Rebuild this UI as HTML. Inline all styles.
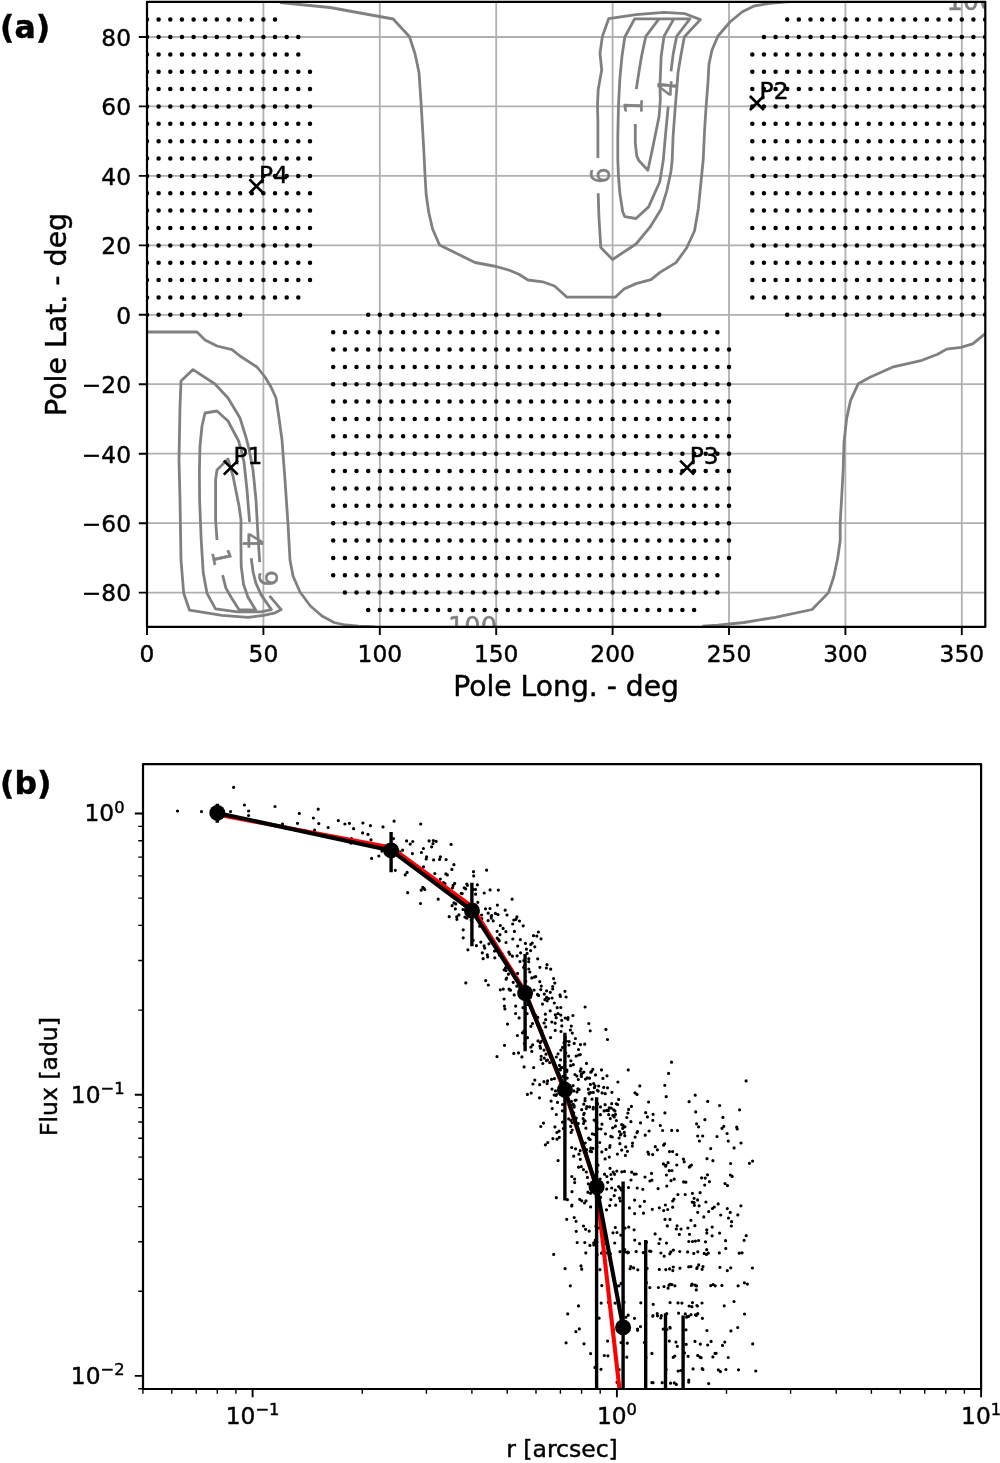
<!DOCTYPE html>
<html><head><meta charset="utf-8"><title>Figure</title><style>html,body{margin:0;padding:0;background:#fff}svg{display:block}</style></head><body>
<svg width="1000" height="1463" viewBox="0 0 1000 1463" font-family='"DejaVu Sans","Liberation Sans",sans-serif' stroke-linejoin="round">
<style>text{stroke:#000;stroke-width:.45px}text.g{stroke:#808080;stroke-width:.5px}</style>
<defs>
<clipPath id="ca"><rect x="147.0" y="1.9" width="838.3" height="625.0"/></clipPath>
<clipPath id="cb"><rect x="143" y="764.1" width="838.1" height="624.9"/></clipPath>
</defs>
<rect width="1000" height="1463" fill="#fff"/>
<path d="M147.0 1.9V626.9M263.4 1.9V626.9M379.8 1.9V626.9M496.2 1.9V626.9M612.6 1.9V626.9M729.0 1.9V626.9M845.4 1.9V626.9M961.8 1.9V626.9M147.0 592.6H985.3M147.0 523.2H985.3M147.0 453.7H985.3M147.0 384.2H985.3M147.0 314.8H985.3M147.0 245.4H985.3M147.0 175.9H985.3M147.0 106.4H985.3M147.0 37.0H985.3" stroke="#b0b0b0" stroke-width="1.8" fill="none"/>
<g clip-path="url(#ca)">
<path d="M280.0 2.5L330.0 7.5L393.2 19.0L409.5 36.8L415.0 53.8L419.0 72.5L421.2 105.0L423.8 150.0L425.0 175.0L426.2 195.0L428.8 212.5L432.5 228.8L439.5 245.0L475.0 262.5L496.2 266.5L510.0 270.5L518.8 274.2L528.0 280.0L542.5 281.8L554.5 286.0L567.0 297.2L615.3 297.2L624.0 289.0L636.0 283.6L651.0 279.6L660.0 272.4L676.0 262.6L686.6 248.0L694.5 231.0L698.3 209.0L701.1 181.0L703.2 160.0L704.6 130.0L706.0 108.0L708.0 82.0L709.0 64.0L712.0 50.0L718.0 36.0L730.0 22.0L742.0 12.0L754.0 6.0L770.0 3.4L790.0 1.5M597.9 158.0L597.9 122.0L597.5 105.0L598.2 89.6L601.7 70.0L600.0 53.2L602.4 36.4L608.7 18.7L636.0 14.7L664.0 12.3L685.0 13.7L700.4 19.6L690.6 30.0L684.3 37.0L680.8 56.0L678.0 72.8L676.6 91.0L675.2 108.0L673.1 136.0L672.2 160.0L671.0 171.2L666.8 190.8L661.2 209.0L650.0 227.2L636.0 244.0L612.5 259.5L600.8 247.5L598.9 216.0L598.2 193.3M671.0 71.4L673.1 54.6L676.6 36.4L689.9 18.9L634.6 18.9L624.8 37.0L622.0 56.0L619.9 78.4L618.5 105.0L617.8 136.0L617.8 160.0L618.5 176.8L619.9 193.6L622.7 211.8L624.8 216.7L636.0 218.5L648.6 206.9L659.8 181.7L663.3 160.0L665.4 136.0L668.2 106.6M636.3 89.0L638.8 72.8L641.6 56.0L645.8 36.4L659.0 18.9L673.8 18.9L664.0 36.4L661.2 56.0L660.0 84.0L660.3 100.0L659.1 116.4L652.8 147.2L647.9 170.3L638.8 160.5L636.7 155.6L635.3 143.0L635.3 124.1M659.0 18.9L673.8 18.9M147.0 332.0L197.0 332.0L205.0 340.0L217.0 346.0L232.0 349.6L240.0 356.0L257.0 367.0L265.0 377.0L271.0 387.0L276.0 398.0L279.0 418.0L282.0 440.0L285.0 480.0L288.0 524.0L290.0 560.0L293.0 576.0L300.0 592.0L310.4 606.0L322.0 616.0L334.0 622.5L345.5 625.0L358.5 626.2L375.0 626.9M259.7 562.1L258.0 536.0L256.0 500.0L253.0 470.0L249.2 450.0L246.5 439.0L240.0 418.0L228.0 398.0L215.0 384.0L193.0 369.6L181.0 381.0L180.0 406.0L179.0 460.0L180.0 500.0L181.0 560.0L183.7 593.3L189.5 610.2L222.0 615.4L248.0 617.4L263.6 615.4L275.3 612.8L281.2 609.6L269.5 595.9M249.6 522.0L247.0 490.0L244.0 462.0L241.7 452.0L238.6 441.0L228.0 421.0L217.0 411.0L205.0 413.0L202.0 426.0L200.0 446.0L199.4 470.0L199.6 500.0L201.2 540.0L203.2 572.5L207.0 593.3L215.5 608.9L237.6 611.8L261.0 611.8L271.4 609.6L261.0 594.6L255.8 582.9L253.2 572.5L251.2 558.2M217.0 540.0L215.6 520.0L215.6 480.0L217.0 470.0L228.0 459.0L233.0 476.0L239.0 506.0L241.0 520.0L240.9 540.0L241.2 566.0L243.5 584.2L248.0 597.2L255.8 610.2L238.9 609.6L231.1 597.2L225.9 588.1L222.6 575.1M702.4 626.2L718.0 625.1L744.0 622.5L775.2 617.3L812.1 609.5L828.5 592.6L833.7 577.0L837.6 558.8L840.2 540.6L840.2 522.4L842.3 486.0L843.2 470.0L844.0 442.2L846.6 418.8L850.5 400.6L858.3 383.7L870.0 377.2L893.4 366.8L922.0 360.3L937.6 354.3L946.7 349.1L961.0 347.3L972.7 343.9L985.3 333.6" stroke="#808080" stroke-width="2.8" fill="none" stroke-linejoin="round"/>
<text x="0" y="0" transform="translate(601.0 175.6) rotate(-90.0)" class="g" font-size="25.7" fill="#808080" text-anchor="middle" dy="0.365em">6</text>
<text x="0" y="0" transform="translate(633.2 106.0) rotate(-88.0)" class="g" font-size="25.7" fill="#808080" text-anchor="middle" dy="0.365em">1</text>
<text x="0" y="0" transform="translate(666.8 88.0) rotate(-85.4)" class="g" font-size="25.7" fill="#808080" text-anchor="middle" dy="0.365em">4</text>
<text x="0" y="0" transform="translate(222.0 557.3) rotate(78.0)" class="g" font-size="25.7" fill="#808080" text-anchor="middle" dy="0.365em">1</text>
<text x="0" y="0" transform="translate(252.2 540.6) rotate(90.0)" class="g" font-size="25.7" fill="#808080" text-anchor="middle" dy="0.365em">4</text>
<text x="0" y="0" transform="translate(268.2 578.3) rotate(87.0)" class="g" font-size="25.7" fill="#808080" text-anchor="middle" dy="0.365em">9</text>
<text x="0" y="0" transform="translate(472.5 626.5) rotate(0.0)" class="g" font-size="25.7" fill="#808080" text-anchor="middle" dy="0.365em">100</text>
<text x="0" y="0" transform="translate(971.0 0.5) rotate(0.0)" class="g" font-size="25.7" fill="#808080" text-anchor="middle" dy="0.365em">100</text>
<path d="M147.0 19.6h.01M158.6 19.6h.01M170.3 19.6h.01M181.9 19.6h.01M193.6 19.6h.01M205.2 19.6h.01M216.8 19.6h.01M228.5 19.6h.01M240.1 19.6h.01M251.8 19.6h.01M263.4 19.6h.01M275.0 19.6h.01M147.0 37.0h.01M158.6 37.0h.01M170.3 37.0h.01M181.9 37.0h.01M193.6 37.0h.01M205.2 37.0h.01M216.8 37.0h.01M228.5 37.0h.01M240.1 37.0h.01M251.8 37.0h.01M263.4 37.0h.01M275.0 37.0h.01M286.7 37.0h.01M298.3 37.0h.01M147.0 54.4h.01M158.6 54.4h.01M170.3 54.4h.01M181.9 54.4h.01M193.6 54.4h.01M205.2 54.4h.01M216.8 54.4h.01M228.5 54.4h.01M240.1 54.4h.01M251.8 54.4h.01M263.4 54.4h.01M275.0 54.4h.01M286.7 54.4h.01M298.3 54.4h.01M147.0 71.7h.01M158.6 71.7h.01M170.3 71.7h.01M181.9 71.7h.01M193.6 71.7h.01M205.2 71.7h.01M216.8 71.7h.01M228.5 71.7h.01M240.1 71.7h.01M251.8 71.7h.01M263.4 71.7h.01M275.0 71.7h.01M286.7 71.7h.01M298.3 71.7h.01M310.0 71.7h.01M147.0 89.1h.01M158.6 89.1h.01M170.3 89.1h.01M181.9 89.1h.01M193.6 89.1h.01M205.2 89.1h.01M216.8 89.1h.01M228.5 89.1h.01M240.1 89.1h.01M251.8 89.1h.01M263.4 89.1h.01M275.0 89.1h.01M286.7 89.1h.01M298.3 89.1h.01M310.0 89.1h.01M147.0 106.4h.01M158.6 106.4h.01M170.3 106.4h.01M181.9 106.4h.01M193.6 106.4h.01M205.2 106.4h.01M216.8 106.4h.01M228.5 106.4h.01M240.1 106.4h.01M251.8 106.4h.01M263.4 106.4h.01M275.0 106.4h.01M286.7 106.4h.01M298.3 106.4h.01M310.0 106.4h.01M147.0 123.8h.01M158.6 123.8h.01M170.3 123.8h.01M181.9 123.8h.01M193.6 123.8h.01M205.2 123.8h.01M216.8 123.8h.01M228.5 123.8h.01M240.1 123.8h.01M251.8 123.8h.01M263.4 123.8h.01M275.0 123.8h.01M286.7 123.8h.01M298.3 123.8h.01M310.0 123.8h.01M147.0 141.2h.01M158.6 141.2h.01M170.3 141.2h.01M181.9 141.2h.01M193.6 141.2h.01M205.2 141.2h.01M216.8 141.2h.01M228.5 141.2h.01M240.1 141.2h.01M251.8 141.2h.01M263.4 141.2h.01M275.0 141.2h.01M286.7 141.2h.01M298.3 141.2h.01M310.0 141.2h.01M147.0 158.5h.01M158.6 158.5h.01M170.3 158.5h.01M181.9 158.5h.01M193.6 158.5h.01M205.2 158.5h.01M216.8 158.5h.01M228.5 158.5h.01M240.1 158.5h.01M251.8 158.5h.01M263.4 158.5h.01M275.0 158.5h.01M286.7 158.5h.01M298.3 158.5h.01M310.0 158.5h.01M147.0 175.9h.01M158.6 175.9h.01M170.3 175.9h.01M181.9 175.9h.01M193.6 175.9h.01M205.2 175.9h.01M216.8 175.9h.01M228.5 175.9h.01M240.1 175.9h.01M251.8 175.9h.01M263.4 175.9h.01M275.0 175.9h.01M286.7 175.9h.01M298.3 175.9h.01M310.0 175.9h.01M147.0 193.3h.01M158.6 193.3h.01M170.3 193.3h.01M181.9 193.3h.01M193.6 193.3h.01M205.2 193.3h.01M216.8 193.3h.01M228.5 193.3h.01M240.1 193.3h.01M251.8 193.3h.01M263.4 193.3h.01M275.0 193.3h.01M286.7 193.3h.01M298.3 193.3h.01M310.0 193.3h.01M147.0 210.6h.01M158.6 210.6h.01M170.3 210.6h.01M181.9 210.6h.01M193.6 210.6h.01M205.2 210.6h.01M216.8 210.6h.01M228.5 210.6h.01M240.1 210.6h.01M251.8 210.6h.01M263.4 210.6h.01M275.0 210.6h.01M286.7 210.6h.01M298.3 210.6h.01M310.0 210.6h.01M147.0 228.0h.01M158.6 228.0h.01M170.3 228.0h.01M181.9 228.0h.01M193.6 228.0h.01M205.2 228.0h.01M216.8 228.0h.01M228.5 228.0h.01M240.1 228.0h.01M251.8 228.0h.01M263.4 228.0h.01M275.0 228.0h.01M286.7 228.0h.01M298.3 228.0h.01M310.0 228.0h.01M147.0 245.4h.01M158.6 245.4h.01M170.3 245.4h.01M181.9 245.4h.01M193.6 245.4h.01M205.2 245.4h.01M216.8 245.4h.01M228.5 245.4h.01M240.1 245.4h.01M251.8 245.4h.01M263.4 245.4h.01M275.0 245.4h.01M286.7 245.4h.01M298.3 245.4h.01M310.0 245.4h.01M147.0 262.7h.01M158.6 262.7h.01M170.3 262.7h.01M181.9 262.7h.01M193.6 262.7h.01M205.2 262.7h.01M216.8 262.7h.01M228.5 262.7h.01M240.1 262.7h.01M251.8 262.7h.01M263.4 262.7h.01M275.0 262.7h.01M286.7 262.7h.01M298.3 262.7h.01M310.0 262.7h.01M147.0 280.1h.01M158.6 280.1h.01M170.3 280.1h.01M181.9 280.1h.01M193.6 280.1h.01M205.2 280.1h.01M216.8 280.1h.01M228.5 280.1h.01M240.1 280.1h.01M251.8 280.1h.01M263.4 280.1h.01M275.0 280.1h.01M286.7 280.1h.01M298.3 280.1h.01M310.0 280.1h.01M147.0 297.4h.01M158.6 297.4h.01M170.3 297.4h.01M181.9 297.4h.01M193.6 297.4h.01M205.2 297.4h.01M216.8 297.4h.01M228.5 297.4h.01M240.1 297.4h.01M251.8 297.4h.01M263.4 297.4h.01M275.0 297.4h.01M286.7 297.4h.01M298.3 297.4h.01M147.0 314.8h.01M158.6 314.8h.01M170.3 314.8h.01M181.9 314.8h.01M193.6 314.8h.01M205.2 314.8h.01M216.8 314.8h.01M228.5 314.8h.01M240.1 314.8h.01M368.2 314.8h.01M379.8 314.8h.01M391.4 314.8h.01M403.1 314.8h.01M414.7 314.8h.01M426.4 314.8h.01M438.0 314.8h.01M449.6 314.8h.01M461.3 314.8h.01M472.9 314.8h.01M484.6 314.8h.01M496.2 314.8h.01M507.8 314.8h.01M519.5 314.8h.01M531.1 314.8h.01M542.8 314.8h.01M554.4 314.8h.01M566.0 314.8h.01M577.7 314.8h.01M589.3 314.8h.01M601.0 314.8h.01M612.6 314.8h.01M624.2 314.8h.01M635.9 314.8h.01M647.5 314.8h.01M659.2 314.8h.01M333.2 332.2h.01M344.9 332.2h.01M356.5 332.2h.01M368.2 332.2h.01M379.8 332.2h.01M391.4 332.2h.01M403.1 332.2h.01M414.7 332.2h.01M426.4 332.2h.01M438.0 332.2h.01M449.6 332.2h.01M461.3 332.2h.01M472.9 332.2h.01M484.6 332.2h.01M496.2 332.2h.01M507.8 332.2h.01M519.5 332.2h.01M531.1 332.2h.01M542.8 332.2h.01M554.4 332.2h.01M566.0 332.2h.01M577.7 332.2h.01M589.3 332.2h.01M601.0 332.2h.01M612.6 332.2h.01M624.2 332.2h.01M635.9 332.2h.01M647.5 332.2h.01M659.2 332.2h.01M670.8 332.2h.01M682.4 332.2h.01M694.1 332.2h.01M705.7 332.2h.01M717.4 332.2h.01M333.2 349.5h.01M344.9 349.5h.01M356.5 349.5h.01M368.2 349.5h.01M379.8 349.5h.01M391.4 349.5h.01M403.1 349.5h.01M414.7 349.5h.01M426.4 349.5h.01M438.0 349.5h.01M449.6 349.5h.01M461.3 349.5h.01M472.9 349.5h.01M484.6 349.5h.01M496.2 349.5h.01M507.8 349.5h.01M519.5 349.5h.01M531.1 349.5h.01M542.8 349.5h.01M554.4 349.5h.01M566.0 349.5h.01M577.7 349.5h.01M589.3 349.5h.01M601.0 349.5h.01M612.6 349.5h.01M624.2 349.5h.01M635.9 349.5h.01M647.5 349.5h.01M659.2 349.5h.01M670.8 349.5h.01M682.4 349.5h.01M694.1 349.5h.01M705.7 349.5h.01M717.4 349.5h.01M729.0 349.5h.01M333.2 366.9h.01M344.9 366.9h.01M356.5 366.9h.01M368.2 366.9h.01M379.8 366.9h.01M391.4 366.9h.01M403.1 366.9h.01M414.7 366.9h.01M426.4 366.9h.01M438.0 366.9h.01M449.6 366.9h.01M461.3 366.9h.01M472.9 366.9h.01M484.6 366.9h.01M496.2 366.9h.01M507.8 366.9h.01M519.5 366.9h.01M531.1 366.9h.01M542.8 366.9h.01M554.4 366.9h.01M566.0 366.9h.01M577.7 366.9h.01M589.3 366.9h.01M601.0 366.9h.01M612.6 366.9h.01M624.2 366.9h.01M635.9 366.9h.01M647.5 366.9h.01M659.2 366.9h.01M670.8 366.9h.01M682.4 366.9h.01M694.1 366.9h.01M705.7 366.9h.01M717.4 366.9h.01M729.0 366.9h.01M333.2 384.2h.01M344.9 384.2h.01M356.5 384.2h.01M368.2 384.2h.01M379.8 384.2h.01M391.4 384.2h.01M403.1 384.2h.01M414.7 384.2h.01M426.4 384.2h.01M438.0 384.2h.01M449.6 384.2h.01M461.3 384.2h.01M472.9 384.2h.01M484.6 384.2h.01M496.2 384.2h.01M507.8 384.2h.01M519.5 384.2h.01M531.1 384.2h.01M542.8 384.2h.01M554.4 384.2h.01M566.0 384.2h.01M577.7 384.2h.01M589.3 384.2h.01M601.0 384.2h.01M612.6 384.2h.01M624.2 384.2h.01M635.9 384.2h.01M647.5 384.2h.01M659.2 384.2h.01M670.8 384.2h.01M682.4 384.2h.01M694.1 384.2h.01M705.7 384.2h.01M717.4 384.2h.01M729.0 384.2h.01M333.2 401.6h.01M344.9 401.6h.01M356.5 401.6h.01M368.2 401.6h.01M379.8 401.6h.01M391.4 401.6h.01M403.1 401.6h.01M414.7 401.6h.01M426.4 401.6h.01M438.0 401.6h.01M449.6 401.6h.01M461.3 401.6h.01M472.9 401.6h.01M484.6 401.6h.01M496.2 401.6h.01M507.8 401.6h.01M519.5 401.6h.01M531.1 401.6h.01M542.8 401.6h.01M554.4 401.6h.01M566.0 401.6h.01M577.7 401.6h.01M589.3 401.6h.01M601.0 401.6h.01M612.6 401.6h.01M624.2 401.6h.01M635.9 401.6h.01M647.5 401.6h.01M659.2 401.6h.01M670.8 401.6h.01M682.4 401.6h.01M694.1 401.6h.01M705.7 401.6h.01M717.4 401.6h.01M729.0 401.6h.01M333.2 419.0h.01M344.9 419.0h.01M356.5 419.0h.01M368.2 419.0h.01M379.8 419.0h.01M391.4 419.0h.01M403.1 419.0h.01M414.7 419.0h.01M426.4 419.0h.01M438.0 419.0h.01M449.6 419.0h.01M461.3 419.0h.01M472.9 419.0h.01M484.6 419.0h.01M496.2 419.0h.01M507.8 419.0h.01M519.5 419.0h.01M531.1 419.0h.01M542.8 419.0h.01M554.4 419.0h.01M566.0 419.0h.01M577.7 419.0h.01M589.3 419.0h.01M601.0 419.0h.01M612.6 419.0h.01M624.2 419.0h.01M635.9 419.0h.01M647.5 419.0h.01M659.2 419.0h.01M670.8 419.0h.01M682.4 419.0h.01M694.1 419.0h.01M705.7 419.0h.01M717.4 419.0h.01M729.0 419.0h.01M333.2 436.3h.01M344.9 436.3h.01M356.5 436.3h.01M368.2 436.3h.01M379.8 436.3h.01M391.4 436.3h.01M403.1 436.3h.01M414.7 436.3h.01M426.4 436.3h.01M438.0 436.3h.01M449.6 436.3h.01M461.3 436.3h.01M472.9 436.3h.01M484.6 436.3h.01M496.2 436.3h.01M507.8 436.3h.01M519.5 436.3h.01M531.1 436.3h.01M542.8 436.3h.01M554.4 436.3h.01M566.0 436.3h.01M577.7 436.3h.01M589.3 436.3h.01M601.0 436.3h.01M612.6 436.3h.01M624.2 436.3h.01M635.9 436.3h.01M647.5 436.3h.01M659.2 436.3h.01M670.8 436.3h.01M682.4 436.3h.01M694.1 436.3h.01M705.7 436.3h.01M717.4 436.3h.01M729.0 436.3h.01M333.2 453.7h.01M344.9 453.7h.01M356.5 453.7h.01M368.2 453.7h.01M379.8 453.7h.01M391.4 453.7h.01M403.1 453.7h.01M414.7 453.7h.01M426.4 453.7h.01M438.0 453.7h.01M449.6 453.7h.01M461.3 453.7h.01M472.9 453.7h.01M484.6 453.7h.01M496.2 453.7h.01M507.8 453.7h.01M519.5 453.7h.01M531.1 453.7h.01M542.8 453.7h.01M554.4 453.7h.01M566.0 453.7h.01M577.7 453.7h.01M589.3 453.7h.01M601.0 453.7h.01M612.6 453.7h.01M624.2 453.7h.01M635.9 453.7h.01M647.5 453.7h.01M659.2 453.7h.01M670.8 453.7h.01M682.4 453.7h.01M694.1 453.7h.01M705.7 453.7h.01M717.4 453.7h.01M729.0 453.7h.01M333.2 471.1h.01M344.9 471.1h.01M356.5 471.1h.01M368.2 471.1h.01M379.8 471.1h.01M391.4 471.1h.01M403.1 471.1h.01M414.7 471.1h.01M426.4 471.1h.01M438.0 471.1h.01M449.6 471.1h.01M461.3 471.1h.01M472.9 471.1h.01M484.6 471.1h.01M496.2 471.1h.01M507.8 471.1h.01M519.5 471.1h.01M531.1 471.1h.01M542.8 471.1h.01M554.4 471.1h.01M566.0 471.1h.01M577.7 471.1h.01M589.3 471.1h.01M601.0 471.1h.01M612.6 471.1h.01M624.2 471.1h.01M635.9 471.1h.01M647.5 471.1h.01M659.2 471.1h.01M670.8 471.1h.01M682.4 471.1h.01M694.1 471.1h.01M705.7 471.1h.01M717.4 471.1h.01M729.0 471.1h.01M333.2 488.4h.01M344.9 488.4h.01M356.5 488.4h.01M368.2 488.4h.01M379.8 488.4h.01M391.4 488.4h.01M403.1 488.4h.01M414.7 488.4h.01M426.4 488.4h.01M438.0 488.4h.01M449.6 488.4h.01M461.3 488.4h.01M472.9 488.4h.01M484.6 488.4h.01M496.2 488.4h.01M507.8 488.4h.01M519.5 488.4h.01M531.1 488.4h.01M542.8 488.4h.01M554.4 488.4h.01M566.0 488.4h.01M577.7 488.4h.01M589.3 488.4h.01M601.0 488.4h.01M612.6 488.4h.01M624.2 488.4h.01M635.9 488.4h.01M647.5 488.4h.01M659.2 488.4h.01M670.8 488.4h.01M682.4 488.4h.01M694.1 488.4h.01M705.7 488.4h.01M717.4 488.4h.01M729.0 488.4h.01M333.2 505.8h.01M344.9 505.8h.01M356.5 505.8h.01M368.2 505.8h.01M379.8 505.8h.01M391.4 505.8h.01M403.1 505.8h.01M414.7 505.8h.01M426.4 505.8h.01M438.0 505.8h.01M449.6 505.8h.01M461.3 505.8h.01M472.9 505.8h.01M484.6 505.8h.01M496.2 505.8h.01M507.8 505.8h.01M519.5 505.8h.01M531.1 505.8h.01M542.8 505.8h.01M554.4 505.8h.01M566.0 505.8h.01M577.7 505.8h.01M589.3 505.8h.01M601.0 505.8h.01M612.6 505.8h.01M624.2 505.8h.01M635.9 505.8h.01M647.5 505.8h.01M659.2 505.8h.01M670.8 505.8h.01M682.4 505.8h.01M694.1 505.8h.01M705.7 505.8h.01M717.4 505.8h.01M729.0 505.8h.01M333.2 523.2h.01M344.9 523.2h.01M356.5 523.2h.01M368.2 523.2h.01M379.8 523.2h.01M391.4 523.2h.01M403.1 523.2h.01M414.7 523.2h.01M426.4 523.2h.01M438.0 523.2h.01M449.6 523.2h.01M461.3 523.2h.01M472.9 523.2h.01M484.6 523.2h.01M496.2 523.2h.01M507.8 523.2h.01M519.5 523.2h.01M531.1 523.2h.01M542.8 523.2h.01M554.4 523.2h.01M566.0 523.2h.01M577.7 523.2h.01M589.3 523.2h.01M601.0 523.2h.01M612.6 523.2h.01M624.2 523.2h.01M635.9 523.2h.01M647.5 523.2h.01M659.2 523.2h.01M670.8 523.2h.01M682.4 523.2h.01M694.1 523.2h.01M705.7 523.2h.01M717.4 523.2h.01M729.0 523.2h.01M333.2 540.5h.01M344.9 540.5h.01M356.5 540.5h.01M368.2 540.5h.01M379.8 540.5h.01M391.4 540.5h.01M403.1 540.5h.01M414.7 540.5h.01M426.4 540.5h.01M438.0 540.5h.01M449.6 540.5h.01M461.3 540.5h.01M472.9 540.5h.01M484.6 540.5h.01M496.2 540.5h.01M507.8 540.5h.01M519.5 540.5h.01M531.1 540.5h.01M542.8 540.5h.01M554.4 540.5h.01M566.0 540.5h.01M577.7 540.5h.01M589.3 540.5h.01M601.0 540.5h.01M612.6 540.5h.01M624.2 540.5h.01M635.9 540.5h.01M647.5 540.5h.01M659.2 540.5h.01M670.8 540.5h.01M682.4 540.5h.01M694.1 540.5h.01M705.7 540.5h.01M717.4 540.5h.01M729.0 540.5h.01M333.2 557.9h.01M344.9 557.9h.01M356.5 557.9h.01M368.2 557.9h.01M379.8 557.9h.01M391.4 557.9h.01M403.1 557.9h.01M414.7 557.9h.01M426.4 557.9h.01M438.0 557.9h.01M449.6 557.9h.01M461.3 557.9h.01M472.9 557.9h.01M484.6 557.9h.01M496.2 557.9h.01M507.8 557.9h.01M519.5 557.9h.01M531.1 557.9h.01M542.8 557.9h.01M554.4 557.9h.01M566.0 557.9h.01M577.7 557.9h.01M589.3 557.9h.01M601.0 557.9h.01M612.6 557.9h.01M624.2 557.9h.01M635.9 557.9h.01M647.5 557.9h.01M659.2 557.9h.01M670.8 557.9h.01M682.4 557.9h.01M694.1 557.9h.01M705.7 557.9h.01M717.4 557.9h.01M729.0 557.9h.01M333.2 575.2h.01M344.9 575.2h.01M356.5 575.2h.01M368.2 575.2h.01M379.8 575.2h.01M391.4 575.2h.01M403.1 575.2h.01M414.7 575.2h.01M426.4 575.2h.01M438.0 575.2h.01M449.6 575.2h.01M461.3 575.2h.01M472.9 575.2h.01M484.6 575.2h.01M496.2 575.2h.01M507.8 575.2h.01M519.5 575.2h.01M531.1 575.2h.01M542.8 575.2h.01M554.4 575.2h.01M566.0 575.2h.01M577.7 575.2h.01M589.3 575.2h.01M601.0 575.2h.01M612.6 575.2h.01M624.2 575.2h.01M635.9 575.2h.01M647.5 575.2h.01M659.2 575.2h.01M670.8 575.2h.01M682.4 575.2h.01M694.1 575.2h.01M705.7 575.2h.01M717.4 575.2h.01M344.9 592.6h.01M356.5 592.6h.01M368.2 592.6h.01M379.8 592.6h.01M391.4 592.6h.01M403.1 592.6h.01M414.7 592.6h.01M426.4 592.6h.01M438.0 592.6h.01M449.6 592.6h.01M461.3 592.6h.01M472.9 592.6h.01M484.6 592.6h.01M496.2 592.6h.01M507.8 592.6h.01M519.5 592.6h.01M531.1 592.6h.01M542.8 592.6h.01M554.4 592.6h.01M566.0 592.6h.01M577.7 592.6h.01M589.3 592.6h.01M601.0 592.6h.01M612.6 592.6h.01M624.2 592.6h.01M635.9 592.6h.01M647.5 592.6h.01M659.2 592.6h.01M670.8 592.6h.01M682.4 592.6h.01M694.1 592.6h.01M705.7 592.6h.01M717.4 592.6h.01M368.2 610.0h.01M379.8 610.0h.01M391.4 610.0h.01M403.1 610.0h.01M414.7 610.0h.01M426.4 610.0h.01M438.0 610.0h.01M449.6 610.0h.01M461.3 610.0h.01M472.9 610.0h.01M484.6 610.0h.01M496.2 610.0h.01M507.8 610.0h.01M519.5 610.0h.01M531.1 610.0h.01M542.8 610.0h.01M554.4 610.0h.01M566.0 610.0h.01M577.7 610.0h.01M589.3 610.0h.01M601.0 610.0h.01M612.6 610.0h.01M624.2 610.0h.01M635.9 610.0h.01M647.5 610.0h.01M659.2 610.0h.01M670.8 610.0h.01M682.4 610.0h.01M694.1 610.0h.01M787.2 19.6h.01M798.8 19.6h.01M810.5 19.6h.01M822.1 19.6h.01M833.8 19.6h.01M845.4 19.6h.01M857.0 19.6h.01M868.7 19.6h.01M880.3 19.6h.01M892.0 19.6h.01M903.6 19.6h.01M915.2 19.6h.01M926.9 19.6h.01M938.5 19.6h.01M950.2 19.6h.01M961.8 19.6h.01M973.4 19.6h.01M985.1 19.6h.01M763.9 37.0h.01M775.6 37.0h.01M787.2 37.0h.01M798.8 37.0h.01M810.5 37.0h.01M822.1 37.0h.01M833.8 37.0h.01M845.4 37.0h.01M857.0 37.0h.01M868.7 37.0h.01M880.3 37.0h.01M892.0 37.0h.01M903.6 37.0h.01M915.2 37.0h.01M926.9 37.0h.01M938.5 37.0h.01M950.2 37.0h.01M961.8 37.0h.01M973.4 37.0h.01M985.1 37.0h.01M752.3 54.4h.01M763.9 54.4h.01M775.6 54.4h.01M787.2 54.4h.01M798.8 54.4h.01M810.5 54.4h.01M822.1 54.4h.01M833.8 54.4h.01M845.4 54.4h.01M857.0 54.4h.01M868.7 54.4h.01M880.3 54.4h.01M892.0 54.4h.01M903.6 54.4h.01M915.2 54.4h.01M926.9 54.4h.01M938.5 54.4h.01M950.2 54.4h.01M961.8 54.4h.01M973.4 54.4h.01M985.1 54.4h.01M752.3 71.7h.01M763.9 71.7h.01M775.6 71.7h.01M787.2 71.7h.01M798.8 71.7h.01M810.5 71.7h.01M822.1 71.7h.01M833.8 71.7h.01M845.4 71.7h.01M857.0 71.7h.01M868.7 71.7h.01M880.3 71.7h.01M892.0 71.7h.01M903.6 71.7h.01M915.2 71.7h.01M926.9 71.7h.01M938.5 71.7h.01M950.2 71.7h.01M961.8 71.7h.01M973.4 71.7h.01M985.1 71.7h.01M752.3 89.1h.01M763.9 89.1h.01M775.6 89.1h.01M787.2 89.1h.01M798.8 89.1h.01M810.5 89.1h.01M822.1 89.1h.01M833.8 89.1h.01M845.4 89.1h.01M857.0 89.1h.01M868.7 89.1h.01M880.3 89.1h.01M892.0 89.1h.01M903.6 89.1h.01M915.2 89.1h.01M926.9 89.1h.01M938.5 89.1h.01M950.2 89.1h.01M961.8 89.1h.01M973.4 89.1h.01M985.1 89.1h.01M752.3 106.4h.01M763.9 106.4h.01M775.6 106.4h.01M787.2 106.4h.01M798.8 106.4h.01M810.5 106.4h.01M822.1 106.4h.01M833.8 106.4h.01M845.4 106.4h.01M857.0 106.4h.01M868.7 106.4h.01M880.3 106.4h.01M892.0 106.4h.01M903.6 106.4h.01M915.2 106.4h.01M926.9 106.4h.01M938.5 106.4h.01M950.2 106.4h.01M961.8 106.4h.01M973.4 106.4h.01M985.1 106.4h.01M752.3 123.8h.01M763.9 123.8h.01M775.6 123.8h.01M787.2 123.8h.01M798.8 123.8h.01M810.5 123.8h.01M822.1 123.8h.01M833.8 123.8h.01M845.4 123.8h.01M857.0 123.8h.01M868.7 123.8h.01M880.3 123.8h.01M892.0 123.8h.01M903.6 123.8h.01M915.2 123.8h.01M926.9 123.8h.01M938.5 123.8h.01M950.2 123.8h.01M961.8 123.8h.01M973.4 123.8h.01M985.1 123.8h.01M752.3 141.2h.01M763.9 141.2h.01M775.6 141.2h.01M787.2 141.2h.01M798.8 141.2h.01M810.5 141.2h.01M822.1 141.2h.01M833.8 141.2h.01M845.4 141.2h.01M857.0 141.2h.01M868.7 141.2h.01M880.3 141.2h.01M892.0 141.2h.01M903.6 141.2h.01M915.2 141.2h.01M926.9 141.2h.01M938.5 141.2h.01M950.2 141.2h.01M961.8 141.2h.01M973.4 141.2h.01M985.1 141.2h.01M752.3 158.5h.01M763.9 158.5h.01M775.6 158.5h.01M787.2 158.5h.01M798.8 158.5h.01M810.5 158.5h.01M822.1 158.5h.01M833.8 158.5h.01M845.4 158.5h.01M857.0 158.5h.01M868.7 158.5h.01M880.3 158.5h.01M892.0 158.5h.01M903.6 158.5h.01M915.2 158.5h.01M926.9 158.5h.01M938.5 158.5h.01M950.2 158.5h.01M961.8 158.5h.01M973.4 158.5h.01M985.1 158.5h.01M752.3 175.9h.01M763.9 175.9h.01M775.6 175.9h.01M787.2 175.9h.01M798.8 175.9h.01M810.5 175.9h.01M822.1 175.9h.01M833.8 175.9h.01M845.4 175.9h.01M857.0 175.9h.01M868.7 175.9h.01M880.3 175.9h.01M892.0 175.9h.01M903.6 175.9h.01M915.2 175.9h.01M926.9 175.9h.01M938.5 175.9h.01M950.2 175.9h.01M961.8 175.9h.01M973.4 175.9h.01M985.1 175.9h.01M752.3 193.3h.01M763.9 193.3h.01M775.6 193.3h.01M787.2 193.3h.01M798.8 193.3h.01M810.5 193.3h.01M822.1 193.3h.01M833.8 193.3h.01M845.4 193.3h.01M857.0 193.3h.01M868.7 193.3h.01M880.3 193.3h.01M892.0 193.3h.01M903.6 193.3h.01M915.2 193.3h.01M926.9 193.3h.01M938.5 193.3h.01M950.2 193.3h.01M961.8 193.3h.01M973.4 193.3h.01M985.1 193.3h.01M752.3 210.6h.01M763.9 210.6h.01M775.6 210.6h.01M787.2 210.6h.01M798.8 210.6h.01M810.5 210.6h.01M822.1 210.6h.01M833.8 210.6h.01M845.4 210.6h.01M857.0 210.6h.01M868.7 210.6h.01M880.3 210.6h.01M892.0 210.6h.01M903.6 210.6h.01M915.2 210.6h.01M926.9 210.6h.01M938.5 210.6h.01M950.2 210.6h.01M961.8 210.6h.01M973.4 210.6h.01M985.1 210.6h.01M752.3 228.0h.01M763.9 228.0h.01M775.6 228.0h.01M787.2 228.0h.01M798.8 228.0h.01M810.5 228.0h.01M822.1 228.0h.01M833.8 228.0h.01M845.4 228.0h.01M857.0 228.0h.01M868.7 228.0h.01M880.3 228.0h.01M892.0 228.0h.01M903.6 228.0h.01M915.2 228.0h.01M926.9 228.0h.01M938.5 228.0h.01M950.2 228.0h.01M961.8 228.0h.01M973.4 228.0h.01M985.1 228.0h.01M752.3 245.4h.01M763.9 245.4h.01M775.6 245.4h.01M787.2 245.4h.01M798.8 245.4h.01M810.5 245.4h.01M822.1 245.4h.01M833.8 245.4h.01M845.4 245.4h.01M857.0 245.4h.01M868.7 245.4h.01M880.3 245.4h.01M892.0 245.4h.01M903.6 245.4h.01M915.2 245.4h.01M926.9 245.4h.01M938.5 245.4h.01M950.2 245.4h.01M961.8 245.4h.01M973.4 245.4h.01M985.1 245.4h.01M752.3 262.7h.01M763.9 262.7h.01M775.6 262.7h.01M787.2 262.7h.01M798.8 262.7h.01M810.5 262.7h.01M822.1 262.7h.01M833.8 262.7h.01M845.4 262.7h.01M857.0 262.7h.01M868.7 262.7h.01M880.3 262.7h.01M892.0 262.7h.01M903.6 262.7h.01M915.2 262.7h.01M926.9 262.7h.01M938.5 262.7h.01M950.2 262.7h.01M961.8 262.7h.01M973.4 262.7h.01M985.1 262.7h.01M752.3 280.1h.01M763.9 280.1h.01M775.6 280.1h.01M787.2 280.1h.01M798.8 280.1h.01M810.5 280.1h.01M822.1 280.1h.01M833.8 280.1h.01M845.4 280.1h.01M857.0 280.1h.01M868.7 280.1h.01M880.3 280.1h.01M892.0 280.1h.01M903.6 280.1h.01M915.2 280.1h.01M926.9 280.1h.01M938.5 280.1h.01M950.2 280.1h.01M961.8 280.1h.01M973.4 280.1h.01M985.1 280.1h.01M752.3 297.4h.01M763.9 297.4h.01M775.6 297.4h.01M787.2 297.4h.01M798.8 297.4h.01M810.5 297.4h.01M822.1 297.4h.01M833.8 297.4h.01M845.4 297.4h.01M857.0 297.4h.01M868.7 297.4h.01M880.3 297.4h.01M892.0 297.4h.01M903.6 297.4h.01M915.2 297.4h.01M926.9 297.4h.01M938.5 297.4h.01M950.2 297.4h.01M961.8 297.4h.01M973.4 297.4h.01M985.1 297.4h.01M787.2 314.8h.01M798.8 314.8h.01M810.5 314.8h.01M822.1 314.8h.01M833.8 314.8h.01M845.4 314.8h.01M857.0 314.8h.01M868.7 314.8h.01M880.3 314.8h.01M892.0 314.8h.01M903.6 314.8h.01M915.2 314.8h.01M926.9 314.8h.01M938.5 314.8h.01M950.2 314.8h.01M961.8 314.8h.01M973.4 314.8h.01M985.1 314.8h.01" stroke="#000" stroke-width="4.5" stroke-linecap="round" fill="none"/>
</g>
<path d="M223.8 460.6L237.8 474.6M223.8 474.6L237.8 460.6" stroke="#000" stroke-width="2.7" fill="none"/>
<text x="233.5" y="463.8" font-size="23.3">P1</text>
<path d="M749.9 96.0L763.9 110.0M749.9 110.0L763.9 96.0" stroke="#000" stroke-width="2.7" fill="none"/>
<text x="759.6" y="99.2" font-size="23.3">P2</text>
<path d="M680.1 460.6L694.1 474.6M680.1 474.6L694.1 460.6" stroke="#000" stroke-width="2.7" fill="none"/>
<text x="689.8" y="463.8" font-size="23.3">P3</text>
<path d="M249.4 179.3L263.4 193.3M249.4 193.3L263.4 179.3" stroke="#000" stroke-width="2.7" fill="none"/>
<text x="259.1" y="182.5" font-size="23.3">P4</text>
<rect x="147.0" y="1.9" width="838.3" height="625.0" fill="none" stroke="#000" stroke-width="2.2"/>
<path d="M147.0 626.9v8.2M263.4 626.9v8.2M379.8 626.9v8.2M496.2 626.9v8.2M612.6 626.9v8.2M729.0 626.9v8.2M845.4 626.9v8.2M961.8 626.9v8.2M147.0 592.6h-8.2M147.0 523.2h-8.2M147.0 453.7h-8.2M147.0 384.2h-8.2M147.0 314.8h-8.2M147.0 245.4h-8.2M147.0 175.9h-8.2M147.0 106.4h-8.2M147.0 37.0h-8.2" stroke="#000" stroke-width="1.9" fill="none"/>
<text x="147.0" y="662" font-size="23.3" text-anchor="middle">0</text>
<text x="263.4" y="662" font-size="23.3" text-anchor="middle">50</text>
<text x="379.8" y="662" font-size="23.3" text-anchor="middle">100</text>
<text x="496.2" y="662" font-size="23.3" text-anchor="middle">150</text>
<text x="612.6" y="662" font-size="23.3" text-anchor="middle">200</text>
<text x="729.0" y="662" font-size="23.3" text-anchor="middle">250</text>
<text x="845.4" y="662" font-size="23.3" text-anchor="middle">300</text>
<text x="961.8" y="662" font-size="23.3" text-anchor="middle">350</text>
<text x="131" y="601.4" font-size="23.3" text-anchor="end">−80</text>
<text x="131" y="532.0" font-size="23.3" text-anchor="end">−60</text>
<text x="131" y="462.5" font-size="23.3" text-anchor="end">−40</text>
<text x="131" y="393.1" font-size="23.3" text-anchor="end">−20</text>
<text x="131" y="323.6" font-size="23.3" text-anchor="end">0</text>
<text x="131" y="254.2" font-size="23.3" text-anchor="end">20</text>
<text x="131" y="184.7" font-size="23.3" text-anchor="end">40</text>
<text x="131" y="115.2" font-size="23.3" text-anchor="end">60</text>
<text x="131" y="45.8" font-size="23.3" text-anchor="end">80</text>
<text x="566.1" y="696.3" font-size="28.2" text-anchor="middle">Pole Long. - deg</text>
<text transform="translate(65.7 314.4) rotate(-90)" font-size="28.4" text-anchor="middle">Pole Lat. - deg</text>
<text x="0" y="38" font-size="31.5" font-weight="bold">(a)</text>
<g clip-path="url(#cb)">
<path d="M747.4 1284.1h.01M738.1 1285.8h.01M701.6 1177.8h.01M694.9 1225.7h.01M695.2 1095.2h.01M698.6 1126.8h.01M700.1 1192.7h.01M705.5 1241.8h.01M744.5 1314.0h.01M740.9 1205.8h.01M737.7 1327.5h.01M724.8 1342.1h.01M688.5 1316.4h.01M690.2 1166.2h.01M692.5 1241.5h.01M694.1 1202.7h.01M697.8 1251.8h.01M702.2 1368.7h.01M704.7 1185.1h.01M725.0 1183.6h.01M744.4 1282.8h.01M734.1 1147.9h.01M730.7 1267.8h.01M727.3 1208.6h.01M699.1 1205.8h.01M683.6 1181.9h.01M711.1 1341.4h.01M737.8 1214.9h.01M696.5 1285.9h.01M678.0 1302.9h.01M674.9 1285.8h.01M675.9 1342.1h.01M676.8 1154.6h.01M678.1 1371.1h.01M693.8 1253.4h.01M696.8 1268.4h.01M723.8 1126.3h.01M727.3 1270.6h.01M730.9 1330.9h.01M727.1 1133.5h.01M691.3 1285.4h.01M738.5 1369.8h.01M742.1 1252.8h.01M731.3 1226.0h.01M672.7 1201.0h.01M660.3 1125.5h.01M712.2 1227.1h.01M731.6 1221.7h.01M739.2 1253.2h.01M732.2 1176.4h.01M728.2 1357.5h.01M724.2 1305.8h.01M695.5 1314.8h.01M691.4 1165.0h.01M651.9 1353.4h.01M666.2 1096.7h.01M676.3 1384.4h.01M658.9 1243.5h.01M652.8 1316.2h.01M646.4 1282.7h.01M653.0 1315.7h.01M662.6 1130.5h.01M691.0 1314.7h.01M717.0 1136.5h.01M663.6 1145.2h.01M637.6 1330.3h.01M636.1 1251.5h.01M635.1 1137.1h.01M634.6 1200.1h.01M634.6 1213.6h.01M636.2 1174.0h.01M639.8 1085.9h.01M645.2 1135.2h.01M651.9 1180.2h.01M672.6 1151.6h.01M677.1 1225.8h.01M705.2 1178.1h.01M690.9 1220.3h.01M686.0 1329.8h.01M666.5 1243.1h.01M626.8 1357.2h.01M625.1 1228.1h.01M625.7 1146.9h.01M628.7 1227.1h.01M631.0 1180.0h.01M640.5 1122.8h.01M644.4 1342.5h.01M657.5 1315.8h.01M666.9 1329.5h.01M671.7 1130.4h.01M719.3 1252.9h.01M720.7 1215.0h.01M706.5 1254.5h.01M686.6 1317.2h.01M676.3 1229.0h.01M624.5 1171.4h.01M618.9 1285.8h.01M617.0 1382.3h.01M615.7 1205.2h.01M619.1 1138.0h.01M621.7 1150.1h.01M624.8 1249.5h.01M632.3 1146.1h.01M646.0 1357.5h.01M681.9 1303.1h.01M692.1 1284.1h.01M693.1 1368.9h.01M666.0 1165.3h.01M628.2 1315.2h.01M619.1 1369.7h.01M608.7 1114.7h.01M606.5 1209.8h.01M604.3 1355.5h.01M605.1 1104.7h.01M606.7 1189.1h.01M611.9 1092.3h.01M615.4 1126.2h.01M619.4 1131.5h.01M628.6 1109.4h.01M633.6 1267.9h.01M660.9 1253.0h.01M677.5 1130.6h.01M708.7 1383.6h.01M718.3 1369.8h.01M625.4 1155.4h.01M614.6 1174.3h.01M605.1 1158.9h.01M597.9 1180.0h.01M595.3 1240.2h.01M592.8 1069.3h.01M593.7 1083.6h.01M595.5 1074.9h.01M598.1 1128.9h.01M605.4 1133.8h.01M610.0 1168.3h.01M620.3 1201.0h.01M625.9 1317.3h.01M637.5 1131.6h.01M643.5 1213.2h.01M712.9 1160.7h.01M649.6 1251.1h.01M623.8 1327.5h.01M599.7 1142.5h.01M594.6 1176.2h.01M590.1 1151.2h.01M586.3 1172.0h.01M583.3 1072.6h.01M581.3 1166.7h.01M580.3 1071.2h.01M580.3 1159.3h.01M581.4 1076.4h.01M583.5 1169.6h.01M586.5 1063.4h.01M590.4 1084.4h.01M595.0 1085.8h.01M600.1 1179.0h.01M605.7 1243.6h.01M611.7 1103.7h.01M617.9 1082.0h.01M624.3 1132.4h.01M637.2 1188.0h.01M674.8 1356.0h.01M670.5 1383.2h.01M583.5 1226.0h.01M578.3 1123.6h.01M573.8 1090.9h.01M570.4 1030.0h.01M568.0 1084.3h.01M566.8 1083.4h.01M566.8 1071.5h.01M568.1 1017.6h.01M570.6 1065.7h.01M574.2 1107.1h.01M578.7 1055.0h.01M583.9 1072.0h.01M589.8 1139.5h.01M596.2 1196.9h.01M602.9 1078.4h.01M616.8 1171.1h.01M623.8 1251.1h.01M630.9 1121.7h.01M651.5 1173.4h.01M671.0 1180.7h.01M700.3 1344.1h.01M716.1 1353.3h.01M708.3 1253.2h.01M702.9 1369.4h.01M666.8 1186.1h.01M593.3 1107.4h.01M585.7 1155.5h.01M578.5 1305.9h.01M571.8 1176.5h.01M565.7 1089.6h.01M560.5 1059.8h.01M556.3 1114.5h.01M553.4 1063.2h.01M552.0 1089.1h.01M552.1 998.0h.01M553.6 978.6h.01M556.6 1094.5h.01M560.8 1007.5h.01M566.1 997.0h.01M572.3 1033.1h.01M579.1 1089.5h.01M586.3 1108.6h.01M593.8 1245.0h.01M601.5 1253.2h.01M609.3 1157.1h.01M617.0 1232.5h.01M639.6 1243.7h.01M697.7 1136.0h.01M708.7 1211.6h.01M670.0 1284.3h.01M663.2 1329.1h.01M601.2 1303.1h.01M584.0 1121.0h.01M575.5 1148.8h.01M567.2 1078.1h.01M559.4 1065.3h.01M552.2 1108.6h.01M546.0 1054.2h.01M541.0 1059.6h.01M537.5 994.4h.01M535.7 1015.3h.01M535.8 976.6h.01M537.7 958.8h.01M541.3 986.1h.01M546.4 968.0h.01M552.7 986.5h.01M560.0 994.9h.01M567.9 1019.3h.01M576.1 1056.1h.01M584.7 1044.2h.01M593.2 1109.0h.01M601.8 1227.6h.01M610.3 1118.6h.01M634.5 1318.3h.01M701.1 1357.7h.01M712.1 1235.8h.01M698.6 1240.5h.01M593.7 1242.9h.01M584.3 1152.5h.01M574.7 1182.6h.01M555.5 1090.9h.01M546.4 1060.7h.01M537.8 1017.4h.01M530.3 997.4h.01M524.1 1066.9h.01M519.8 987.7h.01M517.6 973.4h.01M517.7 946.1h.01M520.0 961.5h.01M524.5 965.8h.01M530.8 944.4h.01M538.4 932.0h.01M547.0 964.7h.01M556.2 1017.7h.01M565.8 1053.0h.01M575.4 1038.5h.01M585.0 1100.7h.01M594.4 1087.7h.01M603.7 1087.4h.01M612.7 1127.8h.01M621.3 1190.0h.01M653.2 1304.3h.01M674.3 1382.9h.01M684.5 1352.9h.01M586.5 1149.7h.01M576.1 1221.3h.01M565.4 1037.2h.01M554.4 1078.7h.01M543.5 1123.1h.01M532.7 1044.8h.01M522.4 1032.8h.01M513.2 982.3h.01M505.5 967.9h.01M499.9 934.7h.01M497.1 931.3h.01M497.2 938.2h.01M500.3 925.5h.01M506.0 942.5h.01M513.8 920.0h.01M523.2 925.8h.01M533.5 935.7h.01M544.3 994.1h.01M555.3 1014.8h.01M566.2 1041.1h.01M576.9 1076.1h.01M587.3 1077.9h.01M597.4 1090.3h.01M607.0 1075.8h.01M616.3 1103.8h.01M601.0 1369.3h.01M590.6 1353.6h.01M579.7 1199.3h.01M556.3 1197.7h.01M543.9 1081.7h.01M531.2 1093.1h.01M518.5 1052.9h.01M506.1 979.2h.01M494.5 951.1h.01M484.7 948.1h.01M477.4 884.8h.01M473.5 871.7h.01M473.7 875.9h.01M477.8 902.3h.01M485.3 927.2h.01M495.4 913.4h.01M507.0 915.0h.01M519.5 921.0h.01M532.2 943.0h.01M544.9 999.7h.01M557.2 1007.7h.01M569.1 1041.5h.01M580.5 1044.6h.01M591.4 1172.6h.01M601.8 1285.6h.01M611.7 1188.0h.01M621.1 1134.0h.01M630.1 1268.7h.01M596.2 1182.7h.01M585.1 1120.9h.01M560.8 1083.8h.01M547.6 1080.9h.01M533.7 1067.6h.01M519.1 1017.9h.01M504.1 999.0h.01M488.9 943.8h.01M474.3 914.0h.01M461.3 898.3h.01M451.3 895.7h.01M445.9 873.9h.01M446.1 859.6h.01M451.9 869.4h.01M462.2 893.6h.01M475.4 889.4h.01M490.1 889.9h.01M505.2 910.2h.01M520.3 939.6h.01M534.8 946.8h.01M548.7 998.5h.01M561.8 1025.9h.01M574.2 1043.4h.01M586.0 1200.9h.01M597.0 1146.8h.01M607.5 1087.8h.01M617.4 1154.1h.01M626.8 1117.5h.01M652.3 1209.3h.01M687.9 1228.0h.01M613.5 1329.8h.01M603.1 1251.8h.01M592.0 1099.2h.01M580.2 1150.6h.01M567.7 1313.9h.01M554.2 1095.0h.01M539.7 1084.7h.01M524.2 990.3h.01M507.5 1024.1h.01M489.8 936.2h.01M471.2 920.0h.01M452.5 887.8h.01M434.8 873.5h.01M420.5 903.5h.01M412.4 853.6h.01M412.8 841.5h.01M421.4 852.5h.01M436.1 841.3h.01M453.9 864.7h.01M472.7 889.7h.01M491.2 916.2h.01M508.8 952.2h.01M525.4 943.4h.01M540.8 989.6h.01M555.2 1030.4h.01M568.7 1118.9h.01M581.2 1074.9h.01M592.9 1148.4h.01M614.2 1195.7h.01M624.0 1302.3h.01M680.0 1268.2h.01M588.6 1138.2h.01M576.2 1231.3h.01M562.9 1076.4h.01M548.5 1049.3h.01M532.9 1084.0h.01M515.7 1006.1h.01M497.0 1056.6h.01M476.4 945.7h.01M453.9 902.8h.01M429.7 878.6h.01M405.2 874.9h.01M407.1 872.4h.01M431.6 846.8h.01M455.7 903.9h.01M478.0 912.3h.01M498.5 939.5h.01M517.1 955.8h.01M534.1 990.1h.01M549.7 1062.6h.01M564.0 1042.7h.01M577.2 1242.5h.01M589.5 1078.2h.01M585.9 1128.2h.01M573.1 1085.6h.01M559.3 1137.3h.01M544.1 1023.0h.01M527.5 1037.7h.01M509.0 989.0h.01M488.3 985.0h.01M464.9 917.1h.01M438.2 899.2h.01M407.7 892.7h.01M410.2 844.1h.01M440.4 856.9h.01M466.8 884.0h.01M490.0 908.5h.01M510.5 990.2h.01M528.8 958.7h.01M545.3 1014.2h.01M560.4 1070.0h.01M574.2 1217.5h.01M586.9 1106.5h.01M609.7 1147.3h.01M620.0 1251.7h.01M669.8 1253.8h.01M662.2 1382.7h.01M584.2 1113.3h.01M571.1 1132.4h.01M556.9 1132.5h.01M541.2 1056.3h.01M523.9 1031.2h.01M504.4 1006.2h.01M482.3 952.8h.01M456.7 916.8h.01M426.6 856.9h.01M429.1 840.9h.01M458.9 914.9h.01M484.1 945.8h.01M506.0 970.5h.01M525.3 1031.8h.01M542.5 1004.1h.01M558.0 1053.8h.01M572.2 1130.0h.01M585.2 1143.0h.01M597.2 1254.4h.01M608.4 1302.3h.01M690.9 1266.6h.01M669.5 1151.6h.01M645.7 1112.7h.01M627.6 1252.0h.01M583.5 1123.5h.01M570.3 1285.8h.01M555.9 1095.4h.01M540.0 1046.2h.01M522.3 991.3h.01M502.4 954.7h.01M479.7 926.2h.01M453.1 885.4h.01M421.2 890.2h.01M423.9 888.3h.01M455.3 908.9h.01M481.6 915.0h.01M504.1 969.8h.01M523.8 960.5h.01M541.3 1030.6h.01M557.0 1139.2h.01M571.4 1101.4h.01M584.5 1150.1h.01M596.6 1121.7h.01M607.9 1355.8h.01M677.3 1346.3h.01M696.6 1123.8h.01M676.8 1165.0h.01M645.8 1315.6h.01M627.7 1252.8h.01M596.0 1225.9h.01M583.8 1104.2h.01M570.7 1126.4h.01M556.3 1057.0h.01M540.5 1048.2h.01M523.0 1007.7h.01M503.3 989.1h.01M480.8 942.1h.01M454.7 883.4h.01M423.5 866.8h.01M426.2 859.0h.01M456.9 919.3h.01M482.7 925.0h.01M504.9 1009.0h.01M524.4 1043.5h.01M541.8 1030.8h.01M557.5 1102.4h.01M571.7 1206.0h.01M584.8 1242.6h.01M596.9 1242.0h.01M618.6 1186.6h.01M670.2 1328.1h.01M684.2 1161.8h.01M646.4 1242.3h.01M628.5 1187.5h.01M618.7 1382.9h.01M608.3 1110.7h.01M597.1 1171.7h.01M585.1 1098.5h.01M572.2 1122.6h.01M558.1 1160.6h.01M542.8 1063.5h.01M525.8 981.3h.01M506.9 962.5h.01M485.5 908.8h.01M461.2 893.3h.01M433.0 843.6h.01M399.8 851.9h.01M402.6 850.2h.01M435.3 883.6h.01M463.2 929.8h.01M487.3 954.9h.01M508.4 974.2h.01M527.1 1013.6h.01M544.0 1050.2h.01M559.3 1069.5h.01M573.2 1104.4h.01M586.1 1152.6h.01M598.0 1165.2h.01M647.1 1268.4h.01M655.3 1146.7h.01M697.4 1306.0h.01M677.9 1194.6h.01M610.0 1145.5h.01M599.1 1318.2h.01M587.4 1177.4h.01M574.9 1074.5h.01M561.3 1079.9h.01M546.6 997.3h.01M530.5 1003.8h.01M512.8 939.0h.01M493.2 920.9h.01M471.5 905.6h.01M447.3 874.9h.01M420.7 824.0h.01M422.8 887.4h.01M449.2 916.7h.01M473.2 940.3h.01M494.8 957.8h.01M514.2 994.9h.01M531.8 1051.4h.01M547.8 1142.5h.01M562.4 1110.8h.01M575.9 1331.7h.01M588.3 1183.8h.01M599.9 1269.7h.01M621.0 1342.6h.01M631.7 1172.2h.01M612.3 1137.0h.01M601.8 1151.9h.01M590.5 1193.3h.01M578.5 1049.5h.01M565.6 1088.2h.01M551.8 1022.0h.01M536.8 936.1h.01M520.6 952.8h.01M503.1 928.4h.01M484.2 893.0h.01M464.2 887.8h.01M443.4 882.7h.01M423.4 848.5h.01M406.6 840.9h.01M396.8 853.0h.01M397.2 849.4h.01M407.6 861.0h.01M424.8 889.5h.01M445.0 883.5h.01M465.8 982.9h.01M485.7 980.6h.01M504.5 1045.3h.01M521.9 1056.9h.01M538.0 1040.9h.01M552.9 1138.6h.01M566.7 1219.3h.01M673.4 1250.1h.01M666.2 1369.6h.01M650.9 1251.3h.01M624.9 1126.8h.01M615.3 1190.2h.01M605.2 1093.7h.01M594.5 1134.5h.01M583.1 1118.5h.01M571.0 1120.4h.01M558.1 1013.6h.01M544.3 1058.1h.01M529.8 972.0h.01M514.4 931.4h.01M498.3 890.1h.01M481.8 918.7h.01M465.7 888.8h.01M451.1 844.4h.01M439.6 859.4h.01M433.3 840.5h.01M433.6 859.9h.01M440.3 879.1h.01M452.1 905.7h.01M466.9 918.2h.01M483.1 958.7h.01M499.5 955.0h.01M515.6 1013.5h.01M530.9 1047.1h.01M545.4 1144.8h.01M559.1 1131.1h.01M571.9 1205.0h.01M584.0 1343.8h.01M595.3 1193.8h.01M606.0 1149.4h.01M634.7 1240.1h.01M659.3 1207.8h.01M673.9 1199.2h.01M687.3 1316.5h.01M668.1 1288.2h.01M609.2 1107.9h.01M599.0 1187.8h.01M588.3 1089.2h.01M577.0 1091.9h.01M565.2 1018.0h.01M552.7 988.9h.01M539.8 981.7h.01M526.4 949.2h.01M512.7 924.0h.01M499.3 940.8h.01M486.6 870.2h.01M475.6 894.2h.01M467.4 885.3h.01M463.0 909.5h.01M463.2 937.8h.01M467.9 949.8h.01M476.4 911.7h.01M487.6 956.9h.01M500.3 989.8h.01M513.8 1053.4h.01M527.4 1094.4h.01M540.8 1126.5h.01M553.7 1254.4h.01M566.1 1342.8h.01M577.9 1088.8h.01M589.2 1231.1h.01M619.6 1198.2h.01M668.6 1073.4h.01M688.8 1241.5h.01M695.0 1341.4h.01M706.8 1233.1h.01M604.1 1110.9h.01M594.1 1120.0h.01M583.7 1114.5h.01M572.9 1015.5h.01M561.7 1020.3h.01M550.2 1010.8h.01M538.6 995.4h.01M527.1 953.4h.01M516.0 919.3h.01M505.9 931.7h.01M497.4 905.1h.01M491.3 918.1h.01M488.1 920.6h.01M488.2 913.2h.01M491.6 915.6h.01M498.0 914.6h.01M506.6 978.0h.01M516.8 986.2h.01M527.9 1004.5h.01M539.5 1097.8h.01M551.1 1101.1h.01M562.6 1104.5h.01M573.7 1156.2h.01M584.5 1203.0h.01M594.9 1367.4h.01M663.7 1210.6h.01M670.8 1251.9h.01M691.9 1306.7h.01M672.7 1207.2h.01M665.8 1269.6h.01M627.3 1343.2h.01M618.6 1099.4h.01M609.7 1205.6h.01M600.4 1114.7h.01M590.8 1072.2h.01M581.0 1068.9h.01M570.9 1060.8h.01M560.8 1015.1h.01M550.7 969.2h.01M541.0 938.8h.01M531.8 977.9h.01M523.6 967.3h.01M516.9 916.9h.01M512.1 899.2h.01M509.7 990.0h.01M509.8 954.2h.01M512.4 956.2h.01M517.4 1035.5h.01M524.2 994.7h.01M532.5 1023.6h.01M541.7 1041.0h.01M551.5 1079.3h.01M571.7 1147.5h.01M581.7 1269.2h.01M591.6 1151.7h.01M610.4 1253.8h.01M627.9 1113.1h.01M651.9 1382.6h.01M666.4 1175.0h.01M673.2 1357.3h.01M679.8 1251.5h.01M686.2 1344.3h.01M647.4 1116.9h.01M615.5 1114.4h.01M606.9 1176.5h.01M598.2 1091.1h.01M589.2 1093.8h.01M580.3 1054.6h.01M571.3 1026.1h.01M562.6 1047.3h.01M554.3 1003.0h.01M546.6 990.8h.01M539.9 967.3h.01M534.4 977.1h.01M530.6 950.6h.01M528.7 961.7h.01M528.8 969.0h.01M530.9 1026.3h.01M534.8 1080.1h.01M540.3 1042.6h.01M547.1 1083.6h.01M554.9 1126.9h.01M563.3 1128.5h.01M572.0 1191.7h.01M581.0 1265.9h.01M589.9 1245.4h.01M598.8 1228.0h.01M607.6 1341.1h.01M669.3 1341.1h.01M705.9 1202.0h.01M696.3 1289.9h.01M671.9 1284.6h.01M644.4 1201.3h.01M637.0 1132.6h.01M629.4 1207.9h.01M613.7 1109.8h.01M605.7 1252.9h.01M597.6 1104.1h.01M589.6 1106.9h.01M581.7 1109.7h.01M574.1 1105.6h.01M566.9 1070.1h.01M560.4 996.5h.01M554.8 983.1h.01M550.3 992.3h.01M547.2 1000.8h.01M545.7 1019.7h.01M545.7 1026.9h.01M547.4 1060.0h.01M550.6 1037.6h.01M555.2 1023.2h.01M560.9 1050.1h.01M567.4 1199.7h.01M574.6 1179.1h.01M590.2 1139.5h.01M598.2 1212.0h.01M637.5 1329.1h.01M702.4 1318.3h.01M669.0 1285.2h.01M649.1 1131.0h.01M635.0 1092.8h.01M620.5 1134.9h.01M613.2 1172.1h.01M605.9 1029.4h.01M598.7 1086.0h.01M591.7 1071.3h.01M585.1 1007.0h.01M578.9 1154.2h.01M573.3 1064.7h.01M568.6 1056.1h.01M564.9 991.3h.01M562.3 1067.5h.01M561.0 1031.5h.01M561.1 1067.5h.01M562.5 1122.2h.01M565.1 1268.6h.01M568.9 1045.0h.01M573.7 1112.8h.01M579.3 1328.9h.01M585.6 1229.3h.01M592.3 1133.8h.01M606.5 1110.3h.01M628.4 1252.4h.01M715.2 1285.8h.01M672.8 1270.6h.01M640.8 1302.8h.01M627.4 1151.3h.01M614.2 1116.9h.01M607.7 1182.3h.01M601.5 1069.9h.01M595.6 1121.0h.01M590.2 1030.8h.01M585.5 1079.1h.01M581.4 1074.2h.01M578.3 1079.6h.01M576.1 1100.0h.01M575.0 1124.4h.01M575.1 1100.3h.01M576.2 1118.2h.01M578.5 1167.2h.01M581.7 1200.8h.01M585.8 1252.9h.01M590.6 1206.9h.01M602.0 1124.2h.01M614.7 1243.0h.01M660.8 1318.0h.01M673.3 1267.0h.01M709.4 1181.7h.01M688.1 1356.3h.01M682.5 1371.2h.01M665.0 1219.4h.01M652.8 1120.3h.01M634.3 1174.2h.01M628.2 1069.9h.01M616.4 1120.5h.01M610.9 1174.5h.01M605.7 1240.0h.01M601.0 1129.0h.01M596.8 1122.7h.01M593.3 1092.4h.01M590.6 1092.6h.01M588.8 1023.5h.01M587.9 1192.2h.01M588.9 1093.0h.01M590.8 1148.2h.01M597.1 1103.2h.01M616.9 1286.1h.01M622.7 1128.4h.01M719.6 1105.5h.01M696.9 1305.5h.01M680.8 1370.5h.01M664.0 1286.6h.01M624.9 1252.0h.01M619.9 1143.7h.01M615.3 1227.5h.01M611.2 1108.1h.01M607.5 1039.5h.01M604.5 1174.2h.01M602.1 1092.9h.01M600.5 1106.9h.01M600.6 1197.4h.01M604.7 1254.4h.01M620.3 1188.2h.01M653.0 1382.7h.01M670.1 1302.6h.01M707.5 1174.8h.01M712.4 1208.5h.01M658.4 1287.5h.01M653.1 1114.3h.01M647.9 1152.0h.01M642.8 1189.3h.01M637.8 1269.8h.01M620.8 1235.1h.01M617.6 1104.5h.01M614.9 1110.9h.01M612.9 1115.4h.01M611.5 1179.0h.01M610.8 1136.4h.01M610.8 1199.6h.01M613.0 1232.8h.01M615.1 1303.1h.01M643.2 1252.6h.01M685.3 1313.9h.01M703.8 1216.9h.01M694.1 1198.3h.01M674.2 1179.2h.01M669.2 1170.7h.01M664.2 1256.2h.01M649.8 1287.6h.01M637.0 1094.4h.01M624.8 1135.7h.01M623.0 1125.4h.01M621.7 1124.7h.01M621.1 1283.4h.01M621.8 1171.8h.01M669.6 1268.9h.01M689.5 1234.3h.01M688.7 1382.1h.01M679.3 1234.4h.01M665.4 1205.0h.01M648.7 1154.2h.01M645.0 1177.0h.01M636.2 1251.6h.01M634.1 1229.8h.01M632.5 1143.1h.01M631.4 1106.4h.01M630.8 1266.5h.01M661.3 1315.7h.01M707.7 1345.0h.01M719.6 1233.1h.01M688.8 1380.0h.01M671.5 1062.2h.01M663.4 1163.9h.01M652.7 1154.6h.01M640.5 1326.6h.01M640.0 1206.3h.01M667.7 1209.5h.01M689.1 1101.7h.01M706.9 1330.5h.01M728.3 1141.1h.01M702.0 1303.0h.01M669.9 1327.4h.01M660.1 1239.1h.01M657.4 1149.8h.01M649.9 1181.0h.01M648.6 1102.0h.01M655.1 1233.9h.01M710.7 1285.6h.01M734.0 1301.5h.01M718.2 1203.9h.01M667.3 1225.9h.01M664.8 1085.3h.01M657.2 1313.6h.01M658.1 1188.6h.01M659.3 1269.4h.01M683.4 1159.1h.01M722.5 1345.4h.01M730.4 1175.0h.01M721.9 1285.4h.01M714.3 1207.0h.01M706.7 1249.7h.01M703.0 1266.6h.01M695.7 1111.9h.01M692.2 1202.1h.01M668.1 1162.7h.01M666.7 1313.7h.01M665.7 1166.2h.01M664.9 1112.9h.01M664.6 1143.8h.01M670.0 1219.4h.01M689.1 1306.0h.01M692.5 1302.6h.01M707.0 1158.7h.01M722.0 1128.3h.01M707.7 1101.4h.01M704.2 1253.4h.01M678.6 1313.2h.01M672.0 1170.6h.01M697.8 1313.7h.01M715.0 1353.3h.01M736.7 1127.2h.01M725.8 1248.4h.01M702.7 1136.0h.01M689.3 1167.1h.01M685.2 1194.5h.01M681.0 1229.1h.01M694.4 1205.3h.01M697.1 1267.6h.01M746.2 1235.7h.01M739.6 1109.8h.01M719.9 1267.3h.01M710.7 1148.6h.01M685.9 1182.2h.01M687.6 1251.9h.01M688.7 1266.8h.01M695.4 1241.1h.01M697.7 1355.4h.01M700.0 1357.2h.01M746.1 1080.9h.01M697.6 1199.9h.01M692.4 1193.3h.01M695.0 1285.2h.01M696.2 1315.4h.01M697.7 1212.3h.01M699.4 1141.0h.01M727.5 1185.6h.01M730.6 1163.5h.01M752.7 1343.9h.01M752.4 1268.0h.01M749.4 1163.3h.01M737.2 1128.9h.01M728.5 1218.0h.01M725.6 1240.7h.01M722.9 1117.4h.01M712.9 1356.9h.01M702.1 1269.3h.01M698.7 1264.9h.01M713.1 1284.5h.01M720.4 1371.6h.01M725.9 1369.5h.01M752.6 1161.1h.01M741.0 1143.0h.01M706.8 1229.9h.01M704.9 1119.7h.01M730.2 1212.4h.01M744.1 1240.3h.01M755.8 1371.0h.01M177.5 811.0h.01M201.5 811.6h.01M233.6 787.3h.01M244.4 805.0h.01M248.6 811.0h.01M248.6 815.5h.01M230.6 811.6h.01M275.0 806.5h.01M282.5 824.0h.01M297.5 823.3h.01M299.3 813.4h.01M313.4 818.0h.01M314.6 830.0h.01M318.2 809.2h.01M318.8 823.6h.01M328.1 827.5h.01M338.3 820.6h.01M344.9 824.0h.01M349.4 823.3h.01M353.6 828.7h.01M351.5 838.6h.01M350.9 843.1h.01M362.9 823.0h.01M362.6 832.9h.01M368.0 834.4h.01M370.4 825.7h.01M371.0 839.8h.01M371.6 858.4h.01M378.8 856.0h.01M383.0 826.9h.01M394.1 821.2h.01M393.5 838.6h.01M382.0 851.1h.01M395.3 870.3h.01" stroke="#000" stroke-width="3.2" stroke-linecap="round" fill="none"/>
<path d="M217.3 814.5L391.1 847.5L471.9 906.5L525.1 991.7L564.9 1091.7L596.6 1187.4L623.1 1421.2L645.7 1657.1" stroke="#f00" stroke-width="4.1" fill="none" stroke-linejoin="round"/>
<path d="M217.3 803.8V822.8M391.1 831.9V872.3M471.9 882.8V946.3M525.1 953.9V1051.2M564.9 1032.8V1200.6M596.6 1097.2V1400.0M623.1 1181.4V1400.0M645.7 1240.1V1400.0M665.5 1313.3V1400.0M683.1 1315.5V1400.0" stroke="#000" stroke-width="3.4" fill="none"/>
<path d="M217.3 812.9L391.1 850.4L471.9 910.5L525.1 993.1L564.9 1089.9L596.6 1186.9L623.1 1327.4" stroke="#000" stroke-width="4.1" fill="none" stroke-linejoin="round"/>
<circle cx="217.3" cy="812.9" r="8.0"/>
<circle cx="391.1" cy="850.4" r="8.0"/>
<circle cx="471.9" cy="910.5" r="8.0"/>
<circle cx="525.1" cy="993.1" r="8.0"/>
<circle cx="564.9" cy="1089.9" r="8.0"/>
<circle cx="596.6" cy="1186.9" r="8.0"/>
<circle cx="623.1" cy="1327.4" r="8.0"/>
</g>
<rect x="143.0" y="764.1" width="838.1" height="624.9" fill="none" stroke="#000" stroke-width="2.2"/>
<path d="M252.6 1389.0v8.2M616.9 1389.0v8.2M981.1 1389.0v8.2M143.0 813.5h-8.2M143.0 1094.7h-8.2M143.0 1375.9h-8.2" stroke="#000" stroke-width="1.9" fill="none"/>
<path d="M142.9 1389.0v4.7M171.8 1389.0v4.7M196.2 1389.0v4.7M217.3 1389.0v4.7M235.9 1389.0v4.7M362.3 1389.0v4.7M426.4 1389.0v4.7M471.9 1389.0v4.7M507.2 1389.0v4.7M536.0 1389.0v4.7M560.4 1389.0v4.7M581.6 1389.0v4.7M600.2 1389.0v4.7M726.5 1389.0v4.7M790.6 1389.0v4.7M836.2 1389.0v4.7M871.4 1389.0v4.7M900.3 1389.0v4.7M924.7 1389.0v4.7M945.8 1389.0v4.7M964.4 1389.0v4.7M143.0 1388.8h-4.7M143.0 1291.3h-4.7M143.0 1241.7h-4.7M143.0 1206.6h-4.7M143.0 1179.3h-4.7M143.0 1157.1h-4.7M143.0 1138.3h-4.7M143.0 1122.0h-4.7M143.0 1107.6h-4.7M143.0 1010.1h-4.7M143.0 960.5h-4.7M143.0 925.4h-4.7M143.0 898.1h-4.7M143.0 875.9h-4.7M143.0 857.1h-4.7M143.0 840.8h-4.7M143.0 826.4h-4.7" stroke="#000" stroke-width="1.4" fill="none"/>
<text x="252.6" y="1423.5" font-size="23.3" text-anchor="middle">10<tspan font-size="16.3" dy="-8.8">−1</tspan></text>
<text x="616.9" y="1423.5" font-size="23.3" text-anchor="middle">10<tspan font-size="16.3" dy="-8.8">0</tspan></text>
<text x="981.1" y="1423.5" font-size="23.3" text-anchor="middle">10<tspan font-size="16.3" dy="-8.8">1</tspan></text>
<text x="124.5" y="821.3" font-size="23.3" text-anchor="end">10<tspan font-size="16.3" dy="-8.8">0</tspan></text>
<text x="124.5" y="1102.5" font-size="23.3" text-anchor="end">10<tspan font-size="16.3" dy="-8.8">−1</tspan></text>
<text x="124.5" y="1383.7" font-size="23.3" text-anchor="end">10<tspan font-size="16.3" dy="-8.8">−2</tspan></text>
<text x="562.0" y="1457" font-size="23.5" text-anchor="middle">r [arcsec]</text>
<text transform="translate(57 1076.5) rotate(-90)" font-size="23.5" text-anchor="middle">Flux [adu]</text>
<text x="0" y="794" font-size="31.5" font-weight="bold">(b)</text>
</svg>
</body></html>
